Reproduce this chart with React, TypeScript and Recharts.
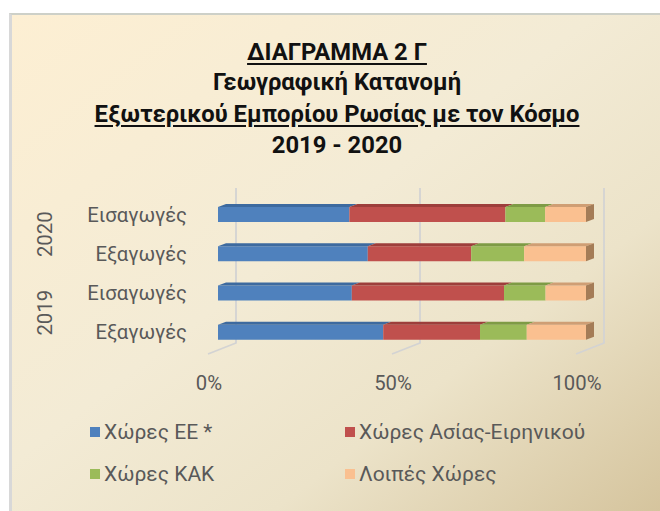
import { BarChart, Bar, XAxis, YAxis, CartesianGrid } from 'recharts';

// rows, top to bottom
const years = ['2020', '2020', '2019', '2019'];
const flows = ['Εισαγωγές', 'Εξαγωγές', 'Εισαγωγές', 'Εξαγωγές'];

// shares in %
const euShare = [35.7, 40.7, 36.4, 44.9];
const asiaShare = [42.4, 28.1, 41.4, 26.3];
const cisShare = [10.8, 14.4, 11.3, 12.7];
const otherShare = [11.1, 16.8, 11.0, 16.1];

const xTicks = [0, 0.5, 1];

const SERIES = [
  { key: 'eu', name: 'Χώρες ΕΕ *', fill: '#4F81BD', top: '#3D6A9F' },
  { key: 'asia', name: 'Χώρες Ασίας-Ειρηνικού', fill: '#C0504D', top: '#9D3E3B' },
  { key: 'cis', name: 'Χώρες ΚΑΚ', fill: '#9BBB59', top: '#7E9B45' },
  { key: 'other', name: 'Λοιπές Χώρες', fill: '#FAC090', top: '#CF9E74', side: '#A47C57' },
];

const data = years.map((year, i) => ({
  id: `${year} ${flows[i]}`,
  year,
  flow: flows[i],
  eu: euShare[i],
  asia: asiaShare[i],
  cis: cisShare[i],
  other: otherShare[i],
}));

const FONT = 'Roboto, "Noto Sans", sans-serif';
const AXIS_COLOR = '#595959';
const AXIS_SIZE = 20.3;
const DX = 8;
const DY = 3;

const Segment3D = (props: any) => {
  const { x, y, width, height, fill, topFill, sideFill } = props;
  if (!width || width <= 0) return null;
  const topFace = `M${x},${y} L${x + DX},${y - DY} L${x + width + DX},${y - DY} L${x + width},${y} Z`;
  return (
    <g>
      <rect x={x} y={y} width={width} height={height} fill={fill} />
      <path d={topFace} fill={topFill} />
      {sideFill && (
        <path
          d={`M${x + width},${y} L${x + width + DX},${y - DY} L${x + width + DX},${y + height - DY} L${x + width},${y + height} Z`}
          fill={sideFill}
        />
      )}
    </g>
  );
};

const GridLine = (props: any) => {
  const { x1, y1, y2 } = props;
  return (
    <path
      key={props.key}
      d={`M${x1 + 18},${y1 - 7} L${x1 + 18},${y2 - 9} L${x1 - 10},${y2 + 2}`}
      stroke="#D3D3D3"
      strokeWidth={1.8}
      fill="none"
    />
  );
};

const CategoryTick = (props: any) => {
  const { x, y, payload } = props;
  const row = data[payload.index];
  const half = payload.offset ?? 19.6;
  return (
    <g>
      <text x={x} y={y} dy="0.35em" textAnchor="end" fill={AXIS_COLOR} fontSize={AXIS_SIZE} fontFamily={FONT}>
        {row ? row.flow : ''}
      </text>
      {payload.index % 2 === 0 && (
        <text
          x={x - 142}
          y={y + half}
          dy="0.35em"
          textAnchor="middle"
          fill={AXIS_COLOR}
          fontSize={AXIS_SIZE}
          fontFamily={FONT}
          transform={`rotate(-90, ${x - 142}, ${y + half})`}
        >
          {row ? row.year : ''}
        </text>
      )}
    </g>
  );
};

const PercentTick = (props: any) => {
  const { x, y, payload } = props;
  return (
    <text x={x - 9} y={y} dy="0.71em" textAnchor="middle" fill={AXIS_COLOR} fontSize={AXIS_SIZE} fontFamily={FONT}>
      {`${Math.round(payload.value * 100)}%`}
    </text>
  );
};

const TITLE_LINES = [
  { text: 'ΔΙΑΓΡΑΜΜΑ 2 Γ', underline: true, top: 41 },
  { text: 'Γεωγραφική Κατανομή', underline: false, top: 71 },
  { text: 'Εξωτερικού Εμπορίου Ρωσίας με τον Κόσμο', underline: true, top: 103 },
  { text: '2019 - 2020', underline: false, top: 134 },
];

export default function App() {
  return (
    <div style={{ position: 'absolute', left: 0, top: 0, width: 660, height: 511, background: '#fff', fontFamily: FONT }}>
      <div
        style={{
          position: 'absolute',
          left: 9,
          top: 13,
          width: 648,
          height: 498,
          borderLeft: '3px solid #D8D8D8',
          borderTop: '2px solid #CDD0C8',
          background: 'linear-gradient(to bottom right, #FDEFD3 0%, #F3EBD5 45%, #ECE3C9 70%, #D5C49D 100%)',
        }}
      />
      {TITLE_LINES.map((l) => (
        <div
          key={l.text}
          style={{
            position: 'absolute',
            left: 337,
            top: l.top,
            transform: 'translateX(-50%)',
            whiteSpace: 'nowrap',
            fontSize: 23.8,
            lineHeight: 1,
            fontWeight: 700,
            color: '#111',
            textDecoration: l.underline ? 'underline' : 'none',
            textUnderlineOffset: 3,
          }}
        >
          {l.text}
        </div>
      ))}

      <div style={{ position: 'absolute', left: 0, top: 0 }}>
        <BarChart
          width={660}
          height={511}
          data={data}
          layout="vertical"
          stackOffset="expand"
          barSize={15}
          margin={{ top: 195, right: 74, bottom: 119, left: 18 }}
        >
          <CartesianGrid horizontal={false} vertical={GridLine} />
          <XAxis
            type="number"
            domain={[0, 1]}
            ticks={xTicks}
            axisLine={false}
            tickLine={false}
            tickSize={0}
            tickMargin={24}
            height={40}
            tick={<PercentTick />}
          />
          <YAxis
            type="category"
            dataKey="id"
            width={200}
            axisLine={false}
            tickLine={false}
            tickSize={0}
            tickMargin={31}
            tick={<CategoryTick />}
          />
          {SERIES.map((s) => (
            <Bar
              key={s.key}
              dataKey={s.key}
              name={s.name}
              stackId="a"
              fill={s.fill}
              isAnimationActive={false}
              shape={(p: any) => <Segment3D {...p} fill={s.fill} topFill={s.top} sideFill={s.side} />}
            />
          ))}
        </BarChart>
      </div>

      {SERIES.map((s, i) => (
        <div
          key={s.key}
          style={{
            position: 'absolute',
            left: i % 2 === 0 ? 90 : 345,
            top: i < 2 ? 420 : 462,
            display: 'flex',
            alignItems: 'center',
            gap: 4,
            fontSize: 21,
            color: AXIS_COLOR,
            whiteSpace: 'nowrap',
            lineHeight: '24px',
          }}
        >
          <span style={{ display: 'inline-block', width: 10, height: 10, background: s.fill }} />
          <span>{s.name}</span>
        </div>
      ))}
    </div>
  );
}
